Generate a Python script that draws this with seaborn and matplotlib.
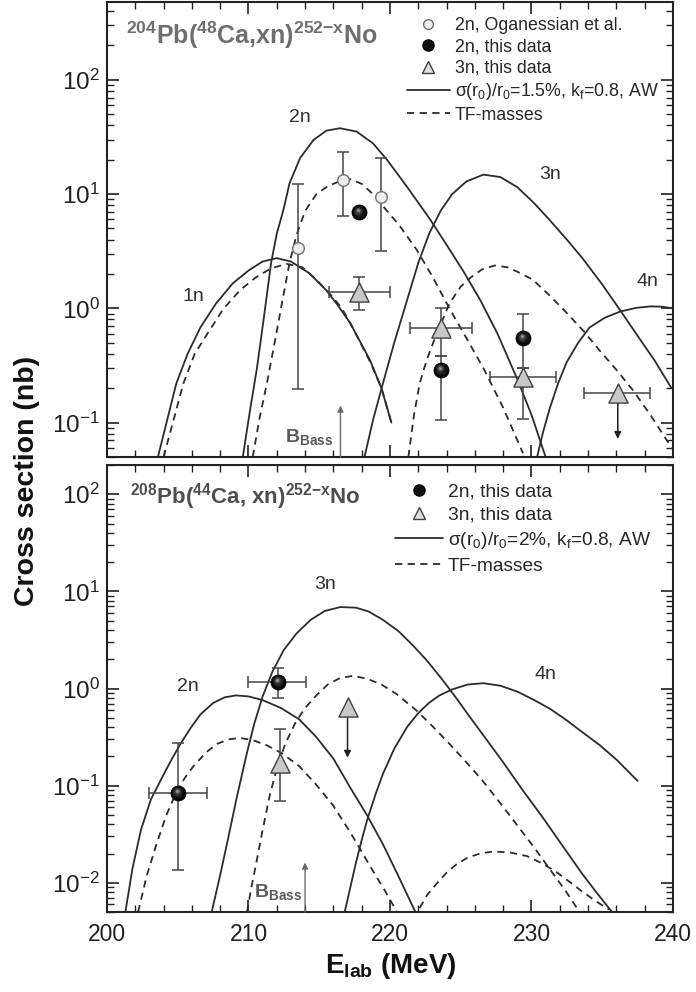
import numpy as np
import pandas as pd
import matplotlib
matplotlib.use("Agg")
import matplotlib.pyplot as plt
from matplotlib.ticker import MultipleLocator, LogLocator, NullFormatter
from matplotlib.lines import Line2D
from matplotlib.transforms import ScaledTranslation
import seaborn as sns

sns.set_style("ticks")
plt.rcParams['font.family'] = ['Liberation Sans', 'DejaVu Sans']
plt.rcParams['mathtext.fontset'] = 'custom'
plt.rcParams['mathtext.rm'] = 'Liberation Sans'
plt.rcParams['mathtext.it'] = 'Liberation Sans:italic'
plt.rcParams['mathtext.bf'] = 'Liberation Sans:bold'
plt.rcParams['mathtext.default'] = 'regular'

# ---------------- data: top panel 204Pb(48Ca,xn) ----------------
t1n_E = [203.6, 204.9, 205.7, 206.6, 207.7, 208.9, 210.0, 211.0, 212.0, 213.0, 214.3, 215.5,
         216.3, 217.2, 218.6, 219.4, 220.1]
t1n_s = [0.05, 0.22, 0.40, 0.68, 1.10, 1.66, 2.14, 2.57, 2.75, 2.57, 2.03, 1.44,
         1.07, 0.74, 0.35, 0.20, 0.10]
t1n_tf_E = [204.0, 205.4, 206.2, 207.1, 208.2, 209.4, 210.5, 211.6, 212.7, 213.8, 214.8, 215.8,
            216.6, 217.2, 218.6, 219.4, 220.1]
t1n_tf_s = [0.05, 0.22, 0.40, 0.60, 0.98, 1.44, 1.86, 2.24, 2.45, 2.29, 1.78, 1.32,
            1.0, 0.74, 0.34, 0.20, 0.10]

t2n_E = [209.6, 210.1, 210.6, 211.1, 211.6, 212.0, 212.46, 212.9, 213.64, 214.6, 215.5, 216.47,
         217.65, 218.8, 219.8, 221.2, 222.8, 224.0, 225.2, 226.4, 227.6, 229.0, 230.0, 231.0]
t2n_s = [0.05, 0.126, 0.30, 0.85, 2.5, 4.5, 7.2, 12.4, 20.6, 29.8, 35.9, 37.7,
         35.2, 27.8, 19.9, 11.6, 6.1, 3.6, 2.1, 1.17, 0.60, 0.24, 0.117, 0.05]
t2n_tf_E = [210.3, 210.8, 211.3, 211.9, 212.4, 212.9, 213.4, 214.0, 214.8, 215.6, 216.4, 217.2,
            218.0, 218.8, 219.6, 220.7, 221.9, 223.0, 224.2, 225.4, 226.6, 228.0, 229.4]
t2n_tf_s = [0.05, 0.112, 0.22, 0.54, 1.17, 2.5, 4.4, 7.1, 10, 11.7, 12.9, 13.5,
            12.3, 10, 7.6, 5.25, 3.24, 1.9, 1.0, 0.55, 0.30, 0.135, 0.054]

t3n_E = [218.2, 218.8, 219.5, 220.3, 221.2, 222.0, 222.8, 223.6, 224.4, 225.4, 226.6, 227.8,
         229.0, 230.2, 231.3, 232.5, 233.6, 235.0, 236.3, 237.5, 238.7, 239.9]
t3n_s = [0.05, 0.105, 0.22, 0.50, 1.17, 2.5, 4.6, 7.2, 10, 12.9, 14.8, 14.1,
         11.5, 8.3, 5.9, 4.0, 2.75, 1.62, 0.95, 0.575, 0.35, 0.20]
t3n_tf_E = [221.3, 221.7, 222.1, 222.6, 223.3, 224.2, 225.0, 225.7, 226.5, 227.4, 228.3, 229.2,
            230.1, 231.3, 232.5, 233.7, 234.8, 236.0, 237.2, 238.4, 239.6, 240.0]
t3n_tf_s = [0.05, 0.117, 0.22, 0.355, 0.60, 1.1, 1.55, 1.86, 2.19, 2.37, 2.29, 2.04,
            1.78, 1.29, 0.91, 0.63, 0.43, 0.29, 0.19, 0.117, 0.069, 0.059]

t4n_E = [230.4, 230.8, 231.3, 231.9, 232.5, 233.3, 234.1, 235.2, 236.3, 237.4, 238.4, 239.2, 240.0]
t4n_s = [0.05, 0.081, 0.134, 0.224, 0.34, 0.50, 0.68, 0.83, 0.94, 1.01, 1.04, 1.035, 1.0]

og_E = [213.5, 216.7, 219.4]
og_s = [3.4, 13.3, 9.4]
og_lo = [0.195, 6.4, 3.16]
og_hi = [12.2, 23.3, 20.7]

t2d_E = [217.8, 223.6, 229.4]
t2d_s = [6.95, 0.29, 0.55]
t2d_lo = [6.95, 0.106, 0.30]
t2d_hi = [6.95, 0.38, 0.885]

t3d_E = [217.8, 223.6, 229.4]
t3d_s = [1.38, 0.67, 0.25]
t3d_lo = [0.96, 0.38, 0.108]
t3d_hi = [1.87, 1.0, 0.30]
t3d_Elo = [215.7, 221.4, 227.1]
t3d_Ehi = [220.0, 225.8, 231.7]

t3lim_E = [236.1]
t3lim_s = [0.18]
t3lim_to = [0.072]
t3lim_Elo = [233.7]
t3lim_Ehi = [238.4]

# ---------------- data: bottom panel 208Pb(44Ca,xn) ----------------
b2n_E = [201.3, 201.8, 202.4, 203.1, 204.0, 204.6, 205.2, 205.9, 206.6, 207.5, 208.3, 209.1,
         210.0, 211.0, 212.3, 213.6, 214.8, 216.0, 217.2, 218.4, 219.5, 220.6, 221.8]
b2n_s = [0.005, 0.014, 0.035, 0.072, 0.13, 0.19, 0.27, 0.39, 0.54, 0.71, 0.81, 0.85,
         0.83, 0.76, 0.63, 0.48, 0.316, 0.19, 0.095, 0.049, 0.025, 0.0117, 0.005]
b2n_tf_E = [202.2, 202.8, 203.5, 204.2, 204.9, 205.5, 206.1, 207.0, 207.8, 208.6, 209.4, 210.3,
            211.3, 212.4, 213.6, 214.8, 216.0, 217.2, 218.6, 219.6, 220.5]
b2n_tf_s = [0.005, 0.0117, 0.025, 0.05, 0.085, 0.12, 0.158, 0.22, 0.27, 0.30, 0.31, 0.295,
            0.26, 0.214, 0.158, 0.102, 0.062, 0.033, 0.0148, 0.0085, 0.005]

b3n_E = [207.4, 208.0, 208.5, 209.2, 209.9, 210.4, 211.0, 211.7, 212.5, 213.4, 214.4, 215.4,
         216.5, 217.6, 218.5, 219.5, 220.6, 221.6, 222.6, 223.6, 224.6, 225.6, 226.6, 228.0,
         229.4, 230.8, 232.2, 233.6, 234.7, 235.7]
b3n_s = [0.005, 0.012, 0.026, 0.079, 0.22, 0.43, 0.83, 1.5, 2.5, 3.7, 5.1, 6.3,
         6.9, 6.8, 6.2, 5.1, 3.9, 2.8, 1.95, 1.29, 0.83, 0.52, 0.33, 0.174,
         0.089, 0.047, 0.024, 0.0123, 0.0076, 0.005]
b3n_tf_E = [209.9, 210.2, 210.6, 211.0, 211.5, 212.0, 212.6, 213.3, 214.0, 214.8, 215.6, 216.5,
            217.4, 218.4, 219.4, 220.5, 221.9, 223.0, 224.2, 225.4, 226.6, 227.8, 229.0, 230.2,
            231.3, 232.4, 233.4]
b3n_tf_s = [0.005, 0.0089, 0.0174, 0.035, 0.079, 0.15, 0.27, 0.44, 0.63, 0.85, 1.1, 1.29,
            1.35, 1.26, 1.1, 0.87, 0.59, 0.41, 0.27, 0.174, 0.11, 0.066, 0.039, 0.023,
            0.0138, 0.0083, 0.005]

b4n_E = [216.8, 217.2, 217.6, 218.0, 218.4, 219.0, 219.5, 220.3, 221.2, 222.0, 222.8, 223.5,
         224.4, 225.5, 226.6, 227.8, 229.0, 230.2, 231.3, 232.5, 233.6, 234.8, 236.0, 237.5]
b4n_s = [0.005, 0.009, 0.0162, 0.0275, 0.045, 0.083, 0.132, 0.24, 0.40, 0.56, 0.72, 0.85,
         0.98, 1.1, 1.135, 1.07, 0.93, 0.76, 0.62, 0.47, 0.355, 0.263, 0.186, 0.112]
b4n_tf_E = [222.1, 222.6, 223.3, 224.0, 224.7, 225.5, 226.4, 227.3, 228.5, 229.7, 230.8, 231.8,
            232.7, 233.6, 234.6, 235.5]
b4n_tf_s = [0.0055, 0.0074, 0.0098, 0.0127, 0.0155, 0.0182, 0.0201, 0.021, 0.0205, 0.0188,
            0.0157, 0.0128, 0.0102, 0.0081, 0.0064, 0.0053]

b2d_E = [205.0, 212.1]
b2d_s = [0.0845, 1.17]
b2d_lo = [0.0137, 0.80]
b2d_hi = [0.276, 1.63]
b2d_Elo = [203.0, 210.0]
b2d_Ehi = [207.1, 214.1]

b3d_E = [212.2]
b3d_s = [0.172]
b3d_lo = [0.07]
b3d_hi = [0.385]

b3lim_E = [217.0]
b3lim_s = [0.645]
b3lim_to = [0.194]

x_ticks = [200, 210, 220, 230, 240]

# ---------------- styles ----------------
LC = '#2b2b2b'
LW = 1.3
DASH = (0, (4, 3))
EC = '#454545'

fig = plt.figure(figsize=(6.96, 9.92), dpi=100)
ax1 = fig.add_axes([0.1537, 0.5393, 0.8132, 0.4587])
ax2 = fig.add_axes([0.1537, 0.0806, 0.8132, 0.4506])


def curve(ax, E, s, dashed=False):
    df = pd.DataFrame({'E': E, 's': s})
    sns.lineplot(data=df, x='E', y='s', ax=ax, color=LC, linewidth=LW,
                 linestyle=DASH if dashed else '-', estimator=None,
                 errorbar=None, sort=False)


def sphere(ax, E, s):
    sns.scatterplot(x=E, y=s, ax=ax, s=118, color='#050505', edgecolor='#000000',
                    linewidth=0.5, zorder=6)
    layers = [(8.5, '#141414', 0.5), (6.5, '#262626', 1.0), (4.6, '#3f3f3f', 1.4),
              (3.0, '#686868', 1.7), (1.6, '#a8a8a8', 1.9)]
    for ms, col, k in layers:
        tr = ax.transData + ScaledTranslation(-0.45 * k / 72, 0.75 * k / 72, fig.dpi_scale_trans)
        ax.plot(E, s, ls='none', marker='o', ms=ms, mfc=col, mec='none',
                transform=tr, zorder=7)


def tri(ax, E, s):
    sns.scatterplot(x=E, y=s, ax=ax, s=190, marker='^', color='#c8c8c8',
                    edgecolor='#404040', linewidth=1.0, zorder=6)


def yerrs(ax, E, s, lo, hi, xlo=None, xhi=None):
    s = np.asarray(s)
    yerr = [s - np.asarray(lo), np.asarray(hi) - s]
    xerr = None
    if xlo is not None:
        E_ = np.asarray(E)
        xerr = [E_ - np.asarray(xlo), np.asarray(xhi) - E_]
    ax.errorbar(E, s, yerr=yerr, xerr=xerr, fmt='none', ecolor=EC,
                elinewidth=1.1, capsize=4, capthick=1.1, zorder=4)


def down_arrow(ax, E, s, to):
    for e, a, b in zip(E, s, to):
        ax.annotate('', xy=(e, b), xytext=(e, a),
                    arrowprops=dict(arrowstyle='-|>', color='#202020', lw=1.1,
                                    mutation_scale=10, shrinkA=0, shrinkB=0),
                    zorder=5)


# ---------- top panel ----------
curve(ax1, t1n_E, t1n_s)
curve(ax1, t1n_tf_E, t1n_tf_s, True)
curve(ax1, t2n_E, t2n_s)
curve(ax1, t2n_tf_E, t2n_tf_s, True)
curve(ax1, t3n_E, t3n_s)
curve(ax1, t3n_tf_E, t3n_tf_s, True)
curve(ax1, t4n_E, t4n_s)

yerrs(ax1, og_E, og_s, og_lo, og_hi)
sns.scatterplot(x=og_E, y=og_s, ax=ax1, s=70, color='#eeeeee', edgecolor='#707070',
                linewidth=1.0, zorder=6)
yerrs(ax1, t2d_E, t2d_s, t2d_lo, t2d_hi)
sphere(ax1, t2d_E, t2d_s)
yerrs(ax1, t3d_E, t3d_s, t3d_lo, t3d_hi, t3d_Elo, t3d_Ehi)
tri(ax1, t3d_E, t3d_s)
ax1.errorbar(t3lim_E, t3lim_s,
             xerr=[np.subtract(t3lim_E, t3lim_Elo), np.subtract(t3lim_Ehi, t3lim_E)],
             fmt='none', ecolor=EC, elinewidth=1.1, capsize=4, capthick=1.1, zorder=4)
down_arrow(ax1, t3lim_E, t3lim_s, t3lim_to)
tri(ax1, t3lim_E, t3lim_s)

# ---------- bottom panel ----------
curve(ax2, b2n_E, b2n_s)
curve(ax2, b2n_tf_E, b2n_tf_s, True)
curve(ax2, b3n_E, b3n_s)
curve(ax2, b3n_tf_E, b3n_tf_s, True)
curve(ax2, b4n_E, b4n_s)
curve(ax2, b4n_tf_E, b4n_tf_s, True)

yerrs(ax2, b2d_E, b2d_s, b2d_lo, b2d_hi, b2d_Elo, b2d_Ehi)
sphere(ax2, b2d_E, b2d_s)
yerrs(ax2, b3d_E, b3d_s, b3d_lo, b3d_hi)
tri(ax2, b3d_E, b3d_s)
down_arrow(ax2, b3lim_E, b3lim_s, b3lim_to)
tri(ax2, b3lim_E, b3lim_s)

# ---------- axes formatting ----------
for ax, ylim in ((ax1, (0.05, 480)), (ax2, (0.005, 200))):
    ax.set_yscale('log')
    ax.set_xlim(200, 240)
    ax.set_ylim(*ylim)
    ax.xaxis.set_major_locator(MultipleLocator(10))
    ax.xaxis.set_minor_locator(MultipleLocator(2))
    ax.yaxis.set_major_locator(LogLocator(base=10, numticks=20))
    ax.yaxis.set_minor_locator(LogLocator(base=10, subs=np.arange(2, 10), numticks=20))
    ax.yaxis.set_minor_formatter(NullFormatter())
    ax.tick_params(which='both', direction='in', top=True, right=True, colors='#202020')
    ax.tick_params(which='major', length=8.5, width=1.2)
    ax.tick_params(which='minor', length=5, width=1.0)
    ax.tick_params(axis='y', which='major', labelsize=17.5, pad=5)
    ax.tick_params(axis='x', which='major', labelsize=16.5, pad=8)
    for sp in ax.spines.values():
        sp.set_linewidth(1.5)
        sp.set_color('#222222')
    ax.set_xlabel('')
    ax.set_ylabel('')

ax1.set_xticks(x_ticks)
ax1.set_xticklabels([])
ax2.set_xticks(x_ticks)
ax2.set_xticklabels([str(v) for v in x_ticks])

# ---------- texts ----------
ax1.text(0.033, 0.962, r'$^{\mathbf{204}}$Pb($^{\mathbf{48}}$Ca,xn)$^{\mathbf{252{-}x}}$No',
         transform=ax1.transAxes, fontsize=18, fontweight='bold', color='#6e6e6e',
         ha='left', va='top')
ax2.text(0.040, 0.965, r'$^{\mathbf{208}}$Pb($^{\mathbf{44}}$Ca, xn)$^{\mathbf{252{-}x}}$No',
         transform=ax2.transAxes, fontsize=16, fontweight='bold', color='#4e4e4e',
         ha='left', va='top')

lab_kw = dict(fontsize=14, color='#303030', ha='center', va='center')
ax1.text(213.6, 47, '2n', **lab_kw)
ax1.text(206.1, 1.27, '1n', **lab_kw)
ax1.text(231.3, 14.7, '3n', **lab_kw)
ax1.text(238.2, 1.73, '4n', **lab_kw)
ax2.text(205.7, 1.06, '2n', **lab_kw)
ax2.text(215.4, 11.9, '3n', **lab_kw)
ax2.text(231.0, 1.41, '4n', **lab_kw)

bass_kw = dict(fontsize=14, color='#5a5a5a', ha='right', va='center')
ax1.text(216.0, 0.075, r'$\mathbf{B_{Bass}}$', **bass_kw)
ax1.annotate('', xy=(216.5, 0.141), xytext=(216.5, 0.05),
             arrowprops=dict(arrowstyle='-|>', color='#6a6a6a', lw=1.0,
                             mutation_scale=9, shrinkA=0, shrinkB=0))
ax2.text(213.8, 0.0081, r'$\mathbf{B_{Bass}}$', **bass_kw)
ax2.annotate('', xy=(214.0, 0.0162), xytext=(214.0, 0.005),
             arrowprops=dict(arrowstyle='-|>', color='#6a6a6a', lw=1.0,
                             mutation_scale=9, shrinkA=0, shrinkB=0))

fig.text(0.039, 0.515, 'Cross section (nb)', rotation=90, fontsize=20.5,
         fontweight='bold', ha='center', va='center', color='#111111')
fig.text(0.562, 0.026, r'$\mathbf{E_{lab}}$ (MeV)', fontsize=20, fontweight='bold',
         ha='center', va='center', color='#111111')

# ---------- legends ----------
h_og = Line2D([], [], ls='none', marker='o', ms=7, mfc='#eeeeee', mec='#707070', mew=1.0)
h_2n = Line2D([], [], ls='none', marker='o', ms=8, mfc='#101010', mec='#000000')
h_3n = Line2D([], [], ls='none', marker='^', ms=8, mfc='#e0e0e0', mec='#404040', mew=1.0)
h_sol = Line2D([], [], color=LC, lw=LW)
h_das = Line2D([], [], color=LC, lw=LW, ls=DASH)

ax1.legend([h_og, h_2n, h_3n, h_sol, h_das],
           ['2n, Oganessian et al.', '2n, this data', '3n, this data',
            'σ(r$_0$)/r$_0$=1.5%, k$_f$=0.8, AW', 'TF-masses'],
           loc='upper left', bbox_to_anchor=(0.530, 0.966), frameon=False,
           fontsize=12.8, handlelength=2.42, handletextpad=0.28, labelspacing=0.24,
           borderpad=0, borderaxespad=0)
ax2.legend([h_2n, h_3n, h_sol, h_das],
           ['2n, this data', '3n, this data',
            'σ(r$_0$)/r$_0$=2%, k$_f$=0.8, AW', 'TF-masses'],
           loc='upper left', bbox_to_anchor=(0.509, 0.960), frameon=False,
           fontsize=13.8, handlelength=2.5, handletextpad=0.26, labelspacing=0.32,
           borderpad=0, borderaxespad=0)

fig.savefig('out.png', dpi=100)
